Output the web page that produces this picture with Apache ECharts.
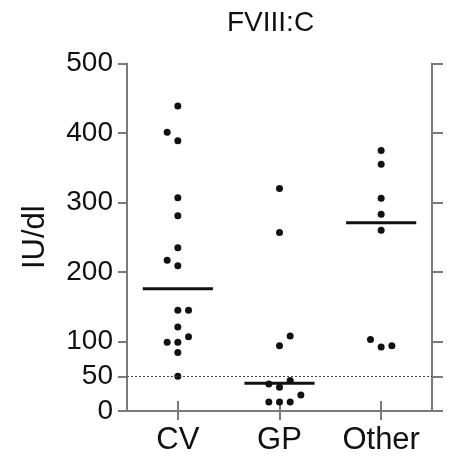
<!DOCTYPE html>
<html>
	<head>
		<meta charset="utf-8">
		<title>FVIII:C</title>
		<style>
			html,body {
				margin: 0;
				padding: 0;
				background-color: #ffffff;
			}
			#main {
				width: 457px;
				height: 456px;
			}
		</style>
	</head>
	<body>
		<div id="main"></div>
	</body>
	<script src="https://cdn.jsdelivr.net/npm/echarts@6/dist/echarts.min.js"></script>
	<script>
		// groups on the x axis
		var groups = ['CV', 'GP', 'Other'];
		// y ticks (50 is the extra cut-off tick)
		var yTicks = [0, 50, 100, 200, 300, 400, 500];
		var cutoff = 50;

		// values (IU/dl) and their side-slot in the dot column
		var cvValues = [439, 401, 389, 307, 281, 235, 217, 209, 145, 145, 121, 107, 99, 99, 84, 50];
		var cvSlots  = [0, -1, 0, 0, 0, 0, -1, 0, 0, 1, 0, 1, -1, 0, 0, 0];
		var gpValues = [320, 257, 108, 94, 44, 39, 34, 23, 13, 13, 13];
		var gpSlots  = [0, 0, 1, 0, 1, -1, 0, 2, -1, 0, 1];
		var otherValues = [375, 355, 306, 283, 260, 103, 92, 94];
		var otherSlots  = [0, 0, 0, 0, 0, -1, 0, 1];

		// median lines
		var medians = [176, 40, 271];

		var slotWidth = 0.105;
		var halfLine = 0.345;
		var axisColor = '#7a7a7a';
		var textColor = '#111';
		var font = 'Liberation Sans';

		var byId = function(id) {
			return document.getElementById(id);
		};

		var toPoints = function(idx, vals, slots) {
			return vals.map(function(v, i) {
				return [idx + 1 + slots[i] * slotWidth, v];
			});
		};

		var dots = []
			.concat(toPoints(0, cvValues, cvSlots))
			.concat(toPoints(1, gpValues, gpSlots))
			.concat(toPoints(2, otherValues, otherSlots));

		var axisLine = { lineStyle: { color: axisColor, width: 2 } };
		var tickStyle = { color: axisColor, width: 2 };
		var groupTicks = [1, 2, 3];

		var option = {
			animation: false,
			title: {
				text: 'FVIII:C',
				left: 222,
				top: 4,
				textStyle: { fontFamily: font, fontSize: 28, fontWeight: 'normal', color: textColor }
			},
			grid: {
				left: 127,
				right: 25,
				top: 63.5,
				bottom: 45
			},
			xAxis: [{
				type: 'value',
				position: 'bottom',
				min: 0.5,
				max: 3.5,
				splitLine: { show: false },
				axisLine: axisLine,
				axisTick: { customValues: groupTicks, length: 9, lineStyle: tickStyle },
				axisLabel: {
					customValues: groupTicks,
					formatter: function(v) { return groups[Math.round(v) - 1]; },
					fontFamily: font,
					fontSize: 31,
					color: textColor,
					margin: 14
				}
			}, {
				type: 'value',
				position: 'top',
				min: 0.5,
				max: 3.5,
				splitLine: { show: false },
				axisLine: axisLine,
				axisTick: { customValues: groupTicks, length: 10, lineStyle: tickStyle },
				axisLabel: { show: false }
			}],
			yAxis: [{
				type: 'value',
				position: 'left',
				min: 0,
				max: 500,
				interval: 100,
				splitLine: { show: false },
				axisLine: { show: true, lineStyle: { color: axisColor, width: 2 } },
				axisTick: { show: true, customValues: yTicks, length: 9, lineStyle: tickStyle },
				axisLabel: {
					customValues: yTicks,
					fontFamily: font,
					fontSize: 28,
					color: textColor,
					margin: 14
				},
				name: 'IU/dl',
				nameLocation: 'middle',
				nameGap: 76,
				nameTextStyle: { fontFamily: font, fontSize: 31, color: textColor }
			}, {
				type: 'value',
				position: 'right',
				min: 0,
				max: 500,
				interval: 100,
				splitLine: { show: false },
				axisLine: { show: true, lineStyle: { color: axisColor, width: 2 } },
				axisTick: { show: true, customValues: yTicks, length: 11, lineStyle: tickStyle },
				axisLabel: { show: false }
			}],
			series: [{
				// dotted cut-off line
				type: 'line',
				data: [],
				markLine: {
					silent: true,
					symbol: 'none',
					label: { show: false },
					lineStyle: { color: '#444', width: 1, type: [2, 2] },
					data: [{ yAxis: cutoff }]
				}
			}, {
				type: 'custom',
				data: medians.map(function(m, i) { return [i + 1, m]; }),
				renderItem: function(params, api) {
					var c = api.coord([api.value(0), api.value(1)]);
					var half = api.size([halfLine, 0])[0];
					return {
						type: 'line',
						shape: { x1: c[0] - half, y1: c[1], x2: c[0] + half, y2: c[1] },
						style: { stroke: '#111', lineWidth: 3 }
					};
				},
				z: 3
			}, {
				type: 'scatter',
				data: dots,
				symbolSize: 7,
				itemStyle: { color: '#111', opacity: 1 },
				z: 4
			}]
		};

		var chart = echarts.init(byId('main'));
		chart.setOption(option);
	</script>
</html>
